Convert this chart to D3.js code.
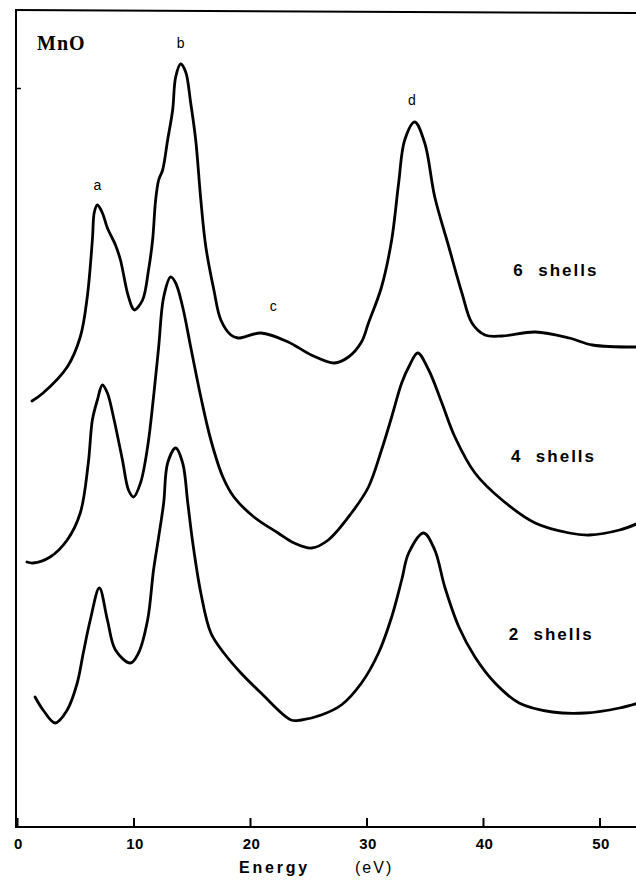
<!DOCTYPE html>
<html>
<head>
<meta charset="utf-8">
<script src="https://cdn.jsdelivr.net/npm/d3@7"></script>
<style>
  html, body { margin: 0; padding: 0; background: #fff; }
  svg { display: block; }
</style>
</head>
<body>
<div id="chart"></div>
<script>
// ---------- data ----------
const xTicks = [0, 10, 20, 30, 40, 50];
const xLabel = "Energy";
const xUnit = "(eV)";
const title = "MnO";
const seriesNames = ["6  shells", "4  shells", "2  shells"];

// energy (eV) / intensity (arb. units, curves offset vertically as in the figure)
const shells6E = [1.29,2.24,4.31,5.43,6.03,6.47,6.64,6.9,7.33,7.76,8.45,8.88,9.48,9.91,10.09,10.78,11.29,11.64,11.9,12.16,12.5,12.93,13.36,13.62,14.05,14.48,14.91,15.34,15.78,16.21,16.9,17.5,18.36,18.97,20.95,23.28,25.26,27.24,28.45,29.57,30.17,31.29,32.16,32.76,33.28,34.14,35.0,35.86,37.07,38.19,39.05,40.17,41.64,44.48,47.41,49.4,53.36];
const shells6I = [42.6,43.4,46.0,49.0,53.0,58.7,61.5,62.2,61.4,59.9,58.2,56.7,53.4,51.9,51.7,52.7,55.7,58.7,62.7,64.7,65.7,68.7,71.7,75.0,76.3,75.5,72.4,68.7,62.7,58.0,53.7,50.7,49.2,48.9,49.4,48.5,47.2,46.4,47.0,48.5,50.4,54.0,58.7,64.4,68.7,70.5,68.4,63.0,58.0,53.4,50.4,49.2,49.1,49.5,48.9,48.2,48.0];

const shells4E = [0.86,1.38,2.84,4.31,5.43,6.12,6.47,6.9,7.33,7.76,8.28,9.05,9.57,10.0,10.6,11.21,11.72,12.16,12.59,13.19,13.62,14.22,14.91,15.78,16.64,17.67,18.62,20.34,22.41,23.79,25.3,26.72,28.71,30.17,31.29,32.16,33.02,33.71,34.4,35.34,36.47,37.59,39.31,41.64,44.48,47.41,49.14,51.72,53.36];
const shells4I = [26.5,26.4,27.0,28.7,31.4,36.4,40.7,42.7,44.2,43.4,41.0,36.7,33.7,33.0,34.4,38.0,43.0,48.0,53.0,55.0,54.4,52.0,48.0,43.0,38.7,35.0,33.0,31.0,29.4,28.4,27.9,28.7,31.4,34.0,37.7,41.0,44.4,46.2,47.4,45.7,42.4,39.0,35.4,32.7,30.4,29.4,29.2,29.7,30.4];

const shells2E = [1.55,2.24,3.28,4.31,5.17,5.69,6.29,7.07,7.76,8.45,9.74,10.43,11.21,11.72,12.16,12.59,12.93,13.62,14.22,14.66,15.09,15.78,16.64,17.76,19.22,20.95,23.53,24.4,26.12,27.84,29.57,31.03,32.16,33.02,33.62,34.91,35.86,36.72,37.93,39.31,41.03,43.1,45.95,48.79,51.72,53.36];
const shells2I = [13.0,11.7,10.4,11.7,14.4,17.4,20.7,23.9,20.7,17.7,16.4,17.4,20.7,25.7,29.0,32.4,36.4,37.9,36.4,32.4,28.4,23.4,19.4,17.4,15.4,13.4,10.7,10.7,11.2,12.2,14.4,17.4,21.0,24.7,27.4,29.4,27.7,24.0,20.0,17.0,14.4,12.4,11.5,11.4,11.9,12.4];

// peak labels: letter, energy, intensity position
const peakNames = ["a", "b", "c", "d"];
const peakE = [6.9, 14.05, 22.0, 33.9];
const peakI = [63.7, 77.9, 51.6, 72.2];

// series label anchor (energy, intensity)
const labelE = [42.6, 42.4, 42.2];
const labelI = [55.1, 36.5, 18.7];

// ---------- drawing ----------
const W = 636, H = 880;
const svg = d3.select("#chart").append("svg").attr("width", W).attr("height", H);

const x = d3.scaleLinear().domain([0, 50]).range([17, 599.5]);
const y = d3.scaleLinear().domain([0, 81.7]).range([827, 10]);

const series = [
  { name: seriesNames[0], e: shells6E, v: shells6I },
  { name: seriesNames[1], e: shells4E, v: shells4I },
  { name: seriesNames[2], e: shells2E, v: shells2I }
];

svg.append("defs").append("clipPath").attr("id", "clip")
  .append("rect").attr("x", 0).attr("y", 0).attr("width", W).attr("height", H);

const line = d3.line()
  .x(d => x(d[0]))
  .y(d => y(d[1]))
  .curve(d3.curveCatmullRom.alpha(0.5));

svg.append("g").attr("clip-path", "url(#clip)")
  .selectAll("path.curve").data(series).join("path")
  .attr("class", "curve")
  .attr("d", s => line(s.e.map((e, i) => [e, s.v[i]])))
  .attr("fill", "none")
  .attr("stroke", "#000")
  .attr("stroke-width", 2.8)
  .attr("stroke-linejoin", "round")
  .attr("stroke-linecap", "round");

// frame: left axis, top line
svg.append("line").attr("x1", x(0) - 1).attr("x2", x(0) - 1)
  .attr("y1", y(81.7)).attr("y2", y(0))
  .attr("stroke", "#000").attr("stroke-width", 2);
svg.append("line").attr("x1", x(0) - 2).attr("x2", W)
  .attr("y1", y(81.7)).attr("y2", y(81.4))
  .attr("stroke", "#000").attr("stroke-width", 2);

// single inward tick on left axis
const yAxis = d3.axisLeft(y).tickValues([73.9]).tickSize(-5).tickFormat("");
const gy = svg.append("g").attr("transform", `translate(${x(0) - 1},0)`).call(yAxis);
gy.select(".domain").remove();
gy.selectAll(".tick line").attr("stroke", "#000").attr("stroke-width", 1.5);

// x axis with inward ticks
const xAxis = d3.axisBottom(x).tickValues(xTicks).tickSize(-9).tickPadding(12).tickSizeOuter(0);
const gx = svg.append("g").attr("transform", `translate(0,${y(0)})`).call(xAxis);
gx.select(".domain").attr("d", `M${x(0) - 2},0H${W}`).attr("stroke", "#000").attr("stroke-width", 2.2);
gx.selectAll(".tick line").attr("stroke", "#000").attr("stroke-width", 2);
gx.selectAll(".tick text")
  .attr("fill", "#000")
  .attr("dx", 1)
  .attr("y", 22).attr("dy", 0)
  .style("font-family", "'Liberation Sans', Arial, sans-serif")
  .style("font-weight", "bold")
  .style("font-size", "15px")
  .style("letter-spacing", "0.5px");

// axis title
svg.append("text").attr("x", 239).attr("y", 873)
  .style("font-family", "'Liberation Sans', Arial, sans-serif")
  .style("font-weight", "bold").style("font-size", "16px")
  .style("letter-spacing", "2.8px")
  .text(xLabel);
svg.append("text").attr("x", 355).attr("y", 873)
  .style("font-family", "'Liberation Sans', Arial, sans-serif")
  .style("font-size", "16px")
  .style("letter-spacing", "2px")
  .text(xUnit);

// title
svg.append("text").attr("x", 37).attr("y", 50)
  .style("font-family", "'Liberation Serif', 'Times New Roman', serif")
  .style("font-weight", "bold").style("font-size", "20px")
  .style("letter-spacing", "1px")
  .text(title);

// peak letters
svg.selectAll("text.peak").data(peakNames).join("text")
  .attr("class", "peak")
  .attr("x", (d, i) => x(peakE[i]))
  .attr("y", (d, i) => y(peakI[i]))
  .attr("text-anchor", "middle")
  .style("font-family", "'Liberation Sans', Arial, sans-serif")
  .style("font-size", "14px")
  .text(d => d);

// series labels
svg.selectAll("text.slabel").data(series).join("text")
  .attr("class", "slabel")
  .attr("x", (d, i) => x(labelE[i]))
  .attr("y", (d, i) => y(labelI[i]))
  .attr("xml:space", "preserve")
  .style("white-space", "pre")
  .style("font-family", "'Liberation Sans', Arial, sans-serif")
  .style("font-weight", "bold")
  .style("font-size", "17px")
  .style("letter-spacing", "2px")
  .text(d => d.name);
</script>
</body>
</html>
